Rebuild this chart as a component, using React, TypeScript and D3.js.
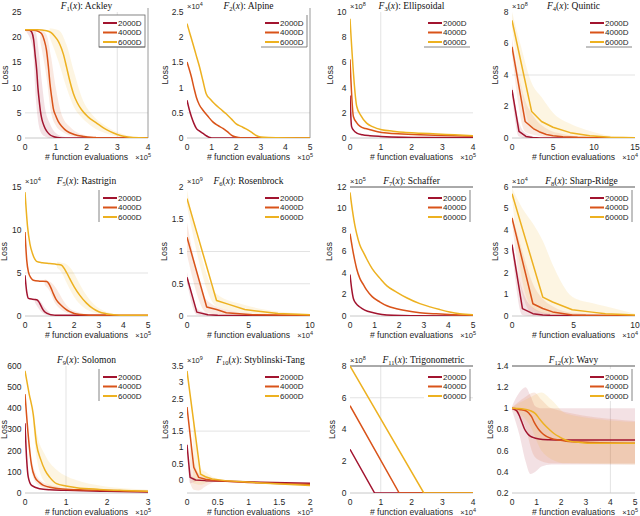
import React from "react";
import * as d3 from "d3";

const C2000 = "#A2142F";
const C4000 = "#D95319";
const C6000 = "#EDB120";
const seriesNames = ["2000D", "4000D", "6000D"];
const seriesColors = [C2000, C4000, C6000];

type P = [number, number][];
type B = [number, number, number][];

// F1 Ackley (x ×1e5)
const ack2000: P = [[0,21.5],[0.15,21.4],[0.22,21.0],[0.28,19.5],[0.33,16.5],[0.38,13.5],[0.42,10],[0.46,7.5],[0.5,5.4],[0.55,3.7],[0.62,2.4],[0.7,1.4],[0.8,0.7],[0.92,0.3],[1.05,0.1],[1.2,0.02],[4,0]];
const ack4000: P = [[0,21.5],[0.3,21.4],[0.45,21.1],[0.55,20.6],[0.62,19.5],[0.7,17.4],[0.76,14.2],[0.81,10.9],[0.87,8],[0.92,5.9],[1.0,4.4],[1.08,3.3],[1.2,2.3],[1.35,1.4],[1.6,0.7],[1.9,0.3],[2.3,0.08],[2.6,0],[4,0]];
const ack6000: P = [[0,21.5],[0.4,21.5],[0.7,21.3],[0.85,20.9],[0.95,20.3],[1.05,19.5],[1.13,18.6],[1.25,16.6],[1.35,14.1],[1.45,11.5],[1.57,8.9],[1.7,7],[1.84,5.6],[2.05,4.2],[2.32,3],[2.55,2],[2.76,1.3],[3.0,0.7],[3.2,0.35],[3.5,0.1],[4,0.02]];
const ack2000b: B = [[0,21.4,21.6],[0.25,18,21.6],[0.35,8,21],[0.45,2.5,17],[0.55,0.8,11],[0.65,0.3,6],[0.8,0,3],[1.0,0,1],[1.3,0,0.2]];
const ack4000b: B = [[0.5,19,21.6],[0.7,12,20.5],[0.85,5,16],[1.0,2.5,10],[1.2,1.3,4.5],[1.5,0.4,2],[2,0,0.5]];
const ack6000b: B = [[0.8,20,21.8],[1.1,15,21.4],[1.35,10,18.5],[1.6,6,13],[1.85,4,8],[2.2,2.2,4.5],[2.6,1,2.5],[3,0.3,1.2],[3.5,0,0.3]];

// F2 Alpine (x ×1e5, y ×1e4)
const alp2000: P = [[0,0.75],[0.1,0.55],[0.18,0.42],[0.28,0.29],[0.38,0.19],[0.5,0.14],[0.65,0.09],[0.8,0.04],[0.92,0.01],[1.0,0],[5,0]];
const alp4000: P = [[0,1.51],[0.1,1.35],[0.18,1.21],[0.28,1.0],[0.38,0.81],[0.5,0.66],[0.65,0.55],[0.85,0.43],[1.05,0.32],[1.25,0.25],[1.46,0.19],[1.65,0.12],[1.86,0.04],[2.1,0.01],[2.4,0],[5,0]];
const alp6000: P = [[0,2.27],[0.12,2.07],[0.24,1.87],[0.38,1.63],[0.51,1.41],[0.65,1.13],[0.78,0.88],[0.95,0.77],[1.12,0.68],[1.35,0.58],[1.59,0.48],[1.8,0.38],[2.0,0.28],[2.2,0.23],[2.4,0.18],[2.6,0.12],[2.81,0.05],[3.0,0.02],[3.3,0.01],[5,0]];

// F3 Ellipsoidal (x ×1e5, y ×1e8)
const ell2000: P = [[0,3.37],[0.05,0.92],[0.12,0.6],[0.22,0.39],[0.4,0.26],[0.65,0.18],[1.0,0.12],[1.74,0.05],[2.5,0.03],[4,0.02]];
const ell4000: P = [[0,6.24],[0.11,1.71],[0.22,1.2],[0.33,0.92],[0.5,0.75],[0.65,0.66],[0.9,0.5],[1.2,0.39],[1.7,0.32],[2.28,0.26],[3,0.2],[4,0.13]];
const ell6000: P = [[0,9.47],[0.22,2.5],[0.35,1.8],[0.54,1.18],[0.75,0.88],[1.03,0.66],[1.4,0.54],[1.74,0.45],[2.3,0.38],[2.83,0.32],[3.4,0.25],[4,0.18]];

// F4 Quintic (x ×1e4, y ×1e8)
const qui2000: P = [[0,3.05],[0.85,0.42],[1.7,0.1],[2.5,0.03],[3.4,0],[15,0]];
const qui4000: P = [[0,5.79],[1.6,1.05],[2.6,0.6],[3.3,0.4],[4.2,0.22],[5,0.15],[6.2,0.08],[8,0.04],[10,0.02],[15,0]];
const qui6000: P = [[0,7.47],[2.4,1.68],[3.6,1.05],[5,0.68],[7.1,0.34],[9.5,0.15],[12,0.05],[15,0.02]];
const qui2000b: B = [[0,2.7,3.4],[0.85,0.1,1],[1.7,0,0.3],[3.4,0,0]];
const qui4000b: B = [[0,5.3,6.3],[1.6,0.4,2.4],[2.6,0.2,1.4],[4.2,0.05,0.6],[6.2,0,0.25],[8,0,0.1],[15,0,0]];
const qui6000b: B = [[0,7,8],[1,3.5,6],[2.4,0.6,3.5],[3.6,0.4,2.6],[5,0.2,1.6],[7.1,0.1,0.9],[9.5,0.03,0.45],[12,0,0.15],[15,0,0.05]];

// F5 Rastrigin (x ×1e5, y ×1e4)
const ras2000: P = [[0,4.73],[0.07,2.8],[0.14,2.05],[0.3,1.95],[0.47,1.9],[0.55,1.7],[0.62,1.35],[0.7,0.9],[0.78,0.55],[0.9,0.3],[1.05,0.15],[1.35,0.08],[3.3,0.08]];
const ras4000: P = [[0,9.77],[0.07,6.5],[0.14,5.1],[0.25,4.4],[0.34,4.15],[0.6,4.05],[0.88,4.0],[0.97,3.75],[1.05,3.3],[1.15,2.6],[1.25,2.0],[1.35,1.6],[1.49,1.2],[1.65,0.8],[1.82,0.5],[2.0,0.3],[2.23,0.17],[2.6,0.1],[3.04,0.08],[5,0.08]];
const ras6000: P = [[0,14.4],[0.1,10.5],[0.2,8.4],[0.3,7.3],[0.4,6.6],[0.47,6.36],[0.7,6.2],[1.01,6.1],[1.3,6.0],[1.49,5.9],[1.6,5.5],[1.7,5.0],[1.82,4.34],[2.0,3.4],[2.23,2.4],[2.5,1.5],[2.77,0.85],[3.0,0.5],[3.3,0.27],[3.6,0.15],[3.99,0.08],[5,0.08]];
const ras2000b: B = [[0.4,1.6,2.1],[0.6,0.7,1.8],[0.8,0.2,1.0],[1.0,0.05,0.4]];
const ras4000b: B = [[0.8,3.6,4.3],[1.0,2.9,4.0],[1.2,1.6,3.5],[1.4,0.9,2.6],[1.6,0.5,1.6],[1.8,0.3,0.9],[2.1,0.1,0.5],[2.5,0.05,0.2]];
const ras6000b: B = [[1.3,5.6,6.3],[1.5,5,6.2],[1.7,3.8,6],[1.9,2.7,5.4],[2.1,1.8,4.4],[2.3,1.2,3.3],[2.6,0.6,2.0],[2.9,0.3,1.1],[3.3,0.1,0.5],[3.8,0.05,0.15]];

// F6 Rosenbrock (x ×1e4, y ×1e9)
const ros2000: P = [[0,0.6],[0.8,0.06],[1.7,0.02],[2.5,0.01],[10,0]];
const ros4000: P = [[0,1.22],[1.6,0.14],[2.4,0.1],[3.2,0.05],[5.3,0.02],[10,0.01]];
const ros6000: P = [[0,1.82],[2.4,0.24],[3.4,0.18],[4.7,0.1],[6,0.07],[7.4,0.04],[10,0.02]];
const ros2000b: B = [[0,0.52,0.68],[0.8,0.02,0.12],[1.7,0,0.04]];
const ros4000b: B = [[0,0.95,1.45],[1.6,0.05,0.25],[3.2,0.01,0.1],[5.3,0,0.04]];
const ros6000b: B = [[0,1.7,1.95],[2.4,0.15,0.34],[4.7,0.05,0.17],[7.4,0.01,0.07],[10,0,0.03]];

// F7 Schaffer (x ×1e5, y ×1e5)
const sch2000: P = [[0,3.85],[0.07,2.5],[0.14,1.6],[0.25,1.15],[0.4,0.84],[0.6,0.55],[0.95,0.31],[1.3,0.15],[1.76,0.06],[2.5,0.02],[5,0]];
const sch4000: P = [[0,7.66],[0.1,6.3],[0.2,5.1],[0.27,4.4],[0.4,3.5],[0.55,2.9],[0.68,2.4],[0.9,1.8],[1.22,1.3],[1.5,0.95],[1.89,0.68],[2.3,0.48],[2.84,0.31],[3.5,0.2],[4.19,0.12],[5,0.08]];
const sch6000: P = [[0,11.5],[0.1,9.8],[0.2,8.4],[0.27,7.66],[0.4,6.6],[0.55,5.9],[0.68,5.3],[0.9,4.4],[1.22,3.5],[1.5,2.8],[1.89,2.23],[2.3,1.7],[2.84,1.15],[3.25,0.85],[3.65,0.6],[4.05,0.38],[4.46,0.22],[5,0.12]];

// F8 Sharp-Ridge (x ×1e4, y ×1e4)
const shr2000: P = [[0,3.32],[0.85,0.34],[1.7,0.11],[2.5,0.05],[3.1,0.03],[10,0.01]];
const shr4000: P = [[0,4.56],[1.7,0.57],[2.5,0.35],[3.3,0.19],[4.9,0.05],[6,0.03],[10,0.01]];
const shr6000: P = [[0,5.69],[2.5,0.88],[3.3,0.65],[4.9,0.29],[6.5,0.18],[7.6,0.11],[10,0.05]];
const shr2000b: B = [[0,3.1,3.5],[0.85,0.05,1.2],[1.7,0,0.4],[3.1,0,0.1]];
const shr4000b: B = [[0,4.4,4.7],[0.85,1.0,3.0],[1.7,0.1,1.5],[2.5,0.05,0.8],[3.3,0.02,0.45],[4.9,0,0.15],[10,0,0.02]];
const shr6000b: B = [[0,5.5,5.95],[0.85,1.6,5.0],[1.7,0.35,4.3],[2.5,0.15,3.5],[3.3,0.08,2.4],[4.9,0.02,0.9],[6.5,0,0.6],[7.6,0,0.45],[10,0,0.1]];

// F9 Solomon (x ×1e5)
const sol2000: P = [[0,329],[0.04,160],[0.08,75],[0.16,36],[0.36,20],[0.6,15],[1.0,12.5],[2,8],[3,5]];
const sol4000: P = [[0,467],[0.08,270],[0.16,130],[0.24,75],[0.35,50],[0.45,36],[0.85,20],[1.3,15],[1.82,12.5],[3,7]];
const sol6000: P = [[0,577],[0.1,470],[0.2,373],[0.28,232],[0.38,160],[0.49,107],[0.6,75],[0.77,44],[1.0,33],[1.26,25],[1.82,17],[2.4,12],[3,8]];
const sol4000b: B = [[0.16,100,160],[0.24,55,100],[0.45,25,50],[0.85,12,30]];
const sol6000b: B = [[0.2,330,410],[0.28,170,290],[0.49,50,180],[0.77,20,110],[1.0,15,80],[1.26,10,60],[1.82,8,35],[2.4,5,22],[3,3,15]];

// F10 Styblinski-Tang (x ×1e5, y ×1e9)
const sty2000: P = [[0,1.08],[0.05,0.08],[0.14,0.0],[0.3,-0.02],[0.62,-0.04],[1.2,-0.07],[2,-0.1]];
const sty4000: P = [[0,2.24],[0.11,0.39],[0.19,0.08],[0.3,0.02],[0.46,-0.02],[1,-0.08],[2,-0.14]];
const sty6000: P = [[0,3.35],[0.22,0.18],[0.3,0.1],[0.41,0.03],[0.62,-0.02],[1.2,-0.09],[2,-0.17]];
const sty2000b: B = [[0,1.0,1.15],[0.05,-0.1,0.2],[0.14,-0.05,0.05]];
const sty4000b: B = [[0.05,-0.1,1.2],[0.11,-0.3,0.6],[0.19,-0.32,0.2],[0.3,-0.2,0.1],[0.46,-0.06,0.03],[1,-0.1,-0.06]];
const sty6000b: B = [[0.1,-0.1,1.9],[0.22,-0.15,0.35],[0.3,-0.1,0.25],[0.41,-0.05,0.1],[0.62,-0.04,0]];

// F11 Trigonometric (x ×1e4, y ×1e8)
const tri2000: P = [[0,2.75],[0.8,0],[4,0]];
const tri4000: P = [[0,5.5],[1.6,0],[4,0]];
const tri6000: P = [[0,8],[2.4,0],[4,0]];

// F12 Wavy (x ×1e5)
const wav2000: P = [[0,1.0],[0.1,0.99],[0.2,0.975],[0.3,0.93],[0.4,0.87],[0.5,0.81],[0.6,0.77],[0.7,0.745],[0.85,0.725],[1.1,0.71],[1.5,0.703],[2.06,0.7],[5,0.7]];
const wav4000: P = [[0,1.0],[0.3,0.99],[0.58,0.975],[0.7,0.95],[0.8,0.92],[0.9,0.87],[1.0,0.83],[1.12,0.79],[1.25,0.76],[1.4,0.735],[1.6,0.715],[1.9,0.7],[2.2,0.69],[3,0.68],[5,0.67]];
const wav6000: P = [[0,1.0],[0.4,0.995],[0.78,0.975],[0.95,0.95],[1.12,0.9],[1.3,0.85],[1.52,0.8],[1.72,0.76],[1.93,0.73],[2.13,0.705],[2.33,0.69],[2.7,0.68],[3.3,0.67],[5,0.67]];
const wav2000b: B = [[0,0.98,1.02],[0.3,0.75,1.15],[0.55,0.5,1.2],[0.75,0.38,1.12],[0.95,0.4,1.02],[1.2,0.45,1.0],[1.6,0.47,1.0],[5,0.47,1.0]];
const wav4000b: B = [[0,0.99,1.01],[0.5,0.85,1.1],[0.9,0.55,1.15],[1.2,0.5,1.08],[1.6,0.48,1.0],[5,0.48,0.88]];
const wav6000b: B = [[0,0.99,1.01],[0.7,0.85,1.1],[1.2,0.6,1.15],[1.6,0.52,1.08],[2.2,0.48,0.95],[5,0.47,0.87]];

const funcNames = ["Ackley","Alpine","Ellipsoidal","Quintic","Rastrigin","Rosenbrock","Schaffer","Sharp-Ridge","Solomon","Styblinski-Tang","Trigonometric","Wavy"];
const xMaxs = [4,5,4,15,5,10,5,10,3,2,4,5];
const xExps = [5,5,5,4,5,4,5,4,5,5,4,5];
const xTickSets = [[0,1,2,3,4],[0,1,2,3,4,5],[0,1,2,3,4],[0,5,10,15],[0,1,2,3,4,5],[0,5,10],[0,1,2,3,4,5],[0,5,10],[0,1,2,3],[0,0.5,1,1.5,2],[0,1,2,3,4],[0,1,2,3,4,5]];
const yDomains = [[0,25],[0,2.5],[0,10],[0,8],[0,15],[0,2],[0,12],[0,6],[0,600],[-0.4,3.5],[0,8],[0.2,1.4]];
const yTickSets = [[0,5,10,15,20,25],[0,0.5,1,1.5,2,2.5],[0,2,4,6,8,10],[0,2,4,6,8],[0,5,10,15],[0,0.5,1,1.5,2],[0,2,4,6,8,10,12],[0,1,2,3,4,5,6],[0,100,200,300,400,500,600],[0,0.5,1,1.5,2,2.5,3,3.5],[0,2,4,6,8],[0.2,0.4,0.6,0.8,1,1.2,1.4]];
const yExps: (number|null)[] = [null,4,8,8,4,9,5,4,null,9,8,null];
const xGrids = [[3],[],[1],[],[],[],[],[],[1],[],[1],[4]];
const yGrids = [[5],[0.5],[2],[4],[5],[0.5,1],[],[],[],[1.5],[6],[]];

const lineSets: P[][] = [
  [ack2000,ack4000,ack6000],[alp2000,alp4000,alp6000],[ell2000,ell4000,ell6000],[qui2000,qui4000,qui6000],
  [ras2000,ras4000,ras6000],[ros2000,ros4000,ros6000],[sch2000,sch4000,sch6000],[shr2000,shr4000,shr6000],
  [sol2000,sol4000,sol6000],[sty2000,sty4000,sty6000],[tri2000,tri4000,tri6000],[wav2000,wav4000,wav6000],
];
const bandSets: (B|null)[][] = [
  [ack2000b,ack4000b,ack6000b],[null,null,null],[null,null,null],[qui2000b,qui4000b,qui6000b],
  [ras2000b,ras4000b,ras6000b],[ros2000b,ros4000b,ros6000b],[null,null,null],[shr2000b,shr4000b,shr6000b],
  [null,sol4000b,sol6000b],[sty2000b,sty4000b,sty6000b],[null,null,null],[wav2000b,wav4000b,wav6000b],
];
const smooth = [true,true,true,false,true,false,true,false,true,false,false,true];
const legendBorders = ["box","rb","b","b","l","","r","r","l","","r","r"];
const rightBorders = [true,true,false,false,false,false,false,false,false,false,false,false];
const topBorders = [false,false,false,false,false,false,true,true,false,false,true,true];
const titleShift = [0,0,0,0,0,0,0,8,0,12,12,0];
const yLabelDx = [-17,-19,-17,-14,-18,-20,-18,-14,-18,-19,-15,-19];

const colLefts = [25, 187, 350, 512];
const plotW = 123;
const rowTops = [12, 187, 366];
const rowBottoms = [138, 316, 493];

const SANS = "'Liberation Sans', Arial, Helvetica, sans-serif";
const SERIF = "'Liberation Serif', 'Times New Roman', serif";
const TXT = "#262626";

const fmt = (v: number) => String(Math.round(v * 100) / 100);

function Panel({ i }: { i: number }) {
  const col = i % 4, row = Math.floor(i / 4);
  const L = colLefts[col], R = L + plotW, T = rowTops[row], Bt = rowBottoms[row];
  const x = d3.scaleLinear().domain([0, xMaxs[i]]).range([L, R]);
  const y = d3.scaleLinear().domain(yDomains[i]).range([Bt, T]);
  const curve = smooth[i] ? d3.curveMonotoneX : d3.curveLinear;
  const line = d3.line<[number, number]>().x(d => x(d[0])).y(d => y(d[1])).curve(curve);
  const area = d3.area<[number, number, number]>().x(d => x(d[0])).y0(d => y(d[1])).y1(d => y(d[2])).curve(d3.curveMonotoneX);
  const clipId = `clip${i}`;
  const lb = legendBorders[i];
  const lx0 = R - 49, lx1 = R - 3, ly0 = T + 3, ly1 = T + 35;
  const idx = i + 1;
  const titleX = (L + R) / 2 + titleShift[i];
  return (
    <g>
      <defs>
        <clipPath id={clipId}><rect x={L} y={T} width={plotW} height={Bt - T} /></clipPath>
      </defs>
      {xGrids[i].map(g => <line key={"xg" + g} x1={x(g)} x2={x(g)} y1={T} y2={Bt} stroke="#dcdcdc" strokeWidth={0.8} />)}
      {yGrids[i].map(g => <line key={"yg" + g} x1={L} x2={R} y1={y(g)} y2={y(g)} stroke="#dcdcdc" strokeWidth={0.8} />)}
      <line x1={L} x2={R} y1={Bt} y2={Bt} stroke="#c8c8c8" strokeWidth={1} />
      {rightBorders[i] && <line x1={R} x2={R} y1={T - 4} y2={Bt} stroke="#9a9a9a" strokeWidth={1} />}
      {topBorders[i] && <line x1={L} x2={R} y1={T} y2={T} stroke="#555" strokeWidth={1} />}
      <g clipPath={`url(#${clipId})`}>
        {bandSets[i].map((b, k) => b ? <path key={"b" + k} d={area(b) || ""} fill={seriesColors[k]} fillOpacity={0.13} stroke="none" /> : null)}
        {lineSets[i].map((p, k) => <path key={"l" + k} d={line(p) || ""} fill="none" stroke={seriesColors[k]} strokeWidth={1.5} strokeLinejoin="round" />)}
      </g>
      {yTickSets[i].map(t => (
        <text key={"yt" + t} x={L - 3.5} y={y(t)} dy="0.35em" textAnchor="end" fontFamily={SANS} fontSize={8.5} fill={TXT}>{fmt(t)}</text>
      ))}
      {xTickSets[i].map(t => (
        <text key={"xt" + t} x={x(t)} y={Bt + 12} textAnchor="middle" fontFamily={SANS} fontSize={8.5} fill={TXT}>{fmt(t)}</text>
      ))}
      <text x={(L + R) / 2} y={Bt + 21.5} textAnchor="middle" fontFamily={SANS} fontSize={8.6} fill={TXT}># function evaluations</text>
      <text x={R + 3} y={Bt + 22} textAnchor="end" fontFamily={SANS} fontSize={7.5} fill={TXT}>×10<tspan dy={-3.5} fontSize={5.5}>{xExps[i]}</tspan></text>
      <text transform={`translate(${L + yLabelDx[i]},${(T + Bt) / 2}) rotate(-90)`} textAnchor="middle" fontFamily={SANS} fontSize={9} fill={TXT}>Loss</text>
      {yExps[i] !== null && (
        <text x={L} y={T - 3} fontFamily={SANS} fontSize={7.5} fill={TXT}>×10<tspan dy={-3.5} fontSize={5.5}>{yExps[i]}</tspan></text>
      )}
      <text x={titleX} y={T - 3} textAnchor="middle" fontFamily={SERIF} fontSize={9.5} fill="#111">
        <tspan fontStyle="italic">F</tspan><tspan dy={2} fontSize={6.5}>{idx}</tspan><tspan dy={-2}>(</tspan><tspan fontStyle="italic">x</tspan><tspan>):  {funcNames[i]}</tspan>
      </text>
      <rect x={lx0} y={ly0} width={lx1 - lx0} height={ly1 - ly0} fill="white" />
      {lb === "box" && <rect x={lx0} y={ly0} width={lx1 - lx0} height={ly1 - ly0} fill="none" stroke="#666" strokeWidth={0.8} />}
      {lb.includes("r") && <line x1={lx1} x2={lx1} y1={ly0} y2={ly1} stroke="#666" strokeWidth={0.8} />}
      {lb.includes("b") && <line x1={lx0} x2={lx1} y1={ly1} y2={ly1} stroke="#666" strokeWidth={0.8} />}
      {lb.includes("l") && <line x1={lx0} x2={lx0} y1={ly0} y2={ly1} stroke="#666" strokeWidth={0.8} />}
      {seriesNames.map((n, k) => {
        const ly = T + 11 + k * 9.5;
        return (
          <g key={n}>
            <line x1={R - 45} x2={R - 31} y1={ly} y2={ly} stroke={seriesColors[k]} strokeWidth={2} />
            <text x={R - 30} y={ly} dy="0.35em" fontFamily={SANS} fontSize={8} fill={TXT}>{n}</text>
          </g>
        );
      })}
    </g>
  );
}

export default function App() {
  return (
    <svg width={640} height={516} viewBox="0 0 640 516" style={{ display: "block", position: "absolute", left: 0, top: 0, background: "white" }}>
      <rect width={640} height={516} fill="white" />
      {funcNames.map((_, i) => <Panel key={i} i={i} />)}
    </svg>
  );
}
